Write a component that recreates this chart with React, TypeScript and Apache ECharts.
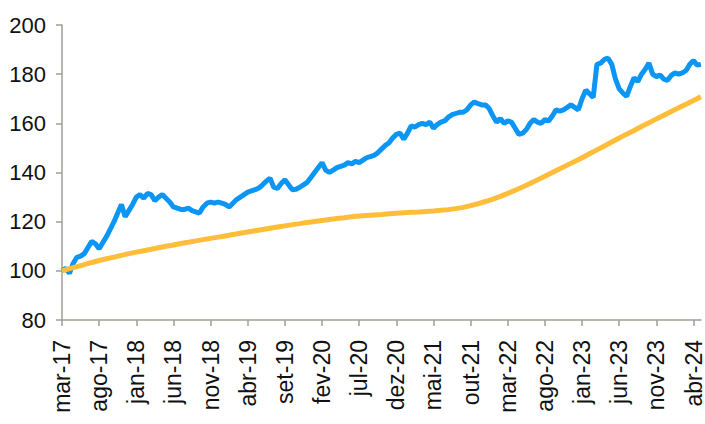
import React, { useEffect, useRef } from "react";
import * as echarts from "echarts";

// Tick labels, one every 5 months starting at mar-17 (month index 0)
const tickLabels = [
  "mar-17", "ago-17", "jan-18", "jun-18", "nov-18", "abr-19", "set-19", "fev-20", "jul-20",
  "dez-20", "mai-21", "out-21", "mar-22", "ago-22", "jan-23", "jun-23", "nov-23", "abr-24",
];

// Blue series: half-month samples from mar-17 (index j -> month j/2)
const blueValues = [
  100, 101, 99, 103, 105.5, 106, 107, 109.5, 112, 111,
  109, 111.5, 114, 117, 120, 123.5, 127, 122, 124.5, 127,
  130, 131, 129.5, 131.5, 131, 128.5, 130, 131, 129.5, 128,
  126, 125.5, 125, 125, 125.5, 124.5, 124, 123.5, 126, 127.5,
  128, 127.5, 128, 127.5, 127, 126, 127.5, 129, 130, 131,
  132, 132.5, 133, 133.7, 135, 136.5, 137.7, 134, 133.5, 135.5,
  137, 135, 133, 133.2, 134, 135, 136, 138, 140, 142,
  144, 141, 140, 141, 142, 142.5, 143, 144, 143.5, 144.5,
  144, 145, 146, 146.5, 147, 148, 149.5, 151, 152, 154,
  155.5, 156, 153.5, 156, 159, 158.5, 159.5, 160, 159.5, 160.5,
  158, 159.5, 160.5, 161, 162.5, 163.5, 164, 164.5, 164.5, 165.5,
  167.5, 168.7, 168, 167.5, 167.5, 166, 163, 160.5, 162, 160,
  161, 160.5, 158, 155.5, 156, 157.5, 160, 161.5, 160.5, 160,
  161.5, 161, 163, 165.5, 165, 165.5, 166.5, 167.5, 166.5, 165.5,
  170, 173.5, 172, 170.5, 184, 184.5, 186, 186.5, 184, 178,
  174, 172.3, 171, 175, 178.5, 177, 180, 182, 184.5, 180,
  179, 179.7, 178, 177.5, 179.5, 180.5, 180, 180.5, 181.5, 184,
  185.5, 183.7, 184,
];

// Yellow series: monthly samples from mar-17
const yellowValues = [
  100.0, 100.9, 101.7, 102.5, 103.4, 104.2, 104.9, 105.6, 106.3, 107.0,
  107.6, 108.2, 108.8, 109.4, 110.0, 110.5, 111.1, 111.6, 112.2, 112.7,
  113.2, 113.7, 114.2, 114.8, 115.3, 115.8, 116.3, 116.8, 117.3, 117.8,
  118.3, 118.8, 119.2, 119.7, 120.1, 120.5, 120.9, 121.3, 121.6, 122.0,
  122.3, 122.5, 122.7, 122.9, 123.2, 123.4, 123.6, 123.8, 123.9, 124.1,
  124.3, 124.6, 124.9, 125.3, 125.8, 126.5, 127.3, 128.2, 129.2, 130.3,
  131.5, 132.8, 134.1, 135.5, 137.0, 138.5, 140.0, 141.5, 143.0, 144.5,
  146.0, 147.6, 149.2, 150.8, 152.4, 154.0, 155.6, 157.1, 158.7, 160.2,
  161.8, 163.3, 164.8, 166.3, 167.8, 169.3, 170.8,
];

export default function App() {
  const ref = useRef<HTMLDivElement>(null);

  useEffect(() => {
    if (!ref.current) return;
    const chart = echarts.init(ref.current, null, { renderer: "svg" });
    const axisColor = "#a39e94";
    const font = "'Liberation Sans', Arial, sans-serif";
    chart.setOption({
      animation: false,
      backgroundColor: "#ffffff",
      grid: { left: 62, right: 0, top: 25, bottom: 104, containLabel: false },
      xAxis: {
        type: "value",
        min: 0,
        max: 86,
        interval: 5,
        axisLine: { show: true, lineStyle: { color: axisColor, width: 1.5 } },
        axisTick: { show: true, length: 6, lineStyle: { color: axisColor, width: 1.5 } },
        splitLine: { show: false },
        axisLabel: {
          rotate: 90,
          margin: 20,
          fontSize: 23,
          fontFamily: font,
          color: "#111111",
          showMaxLabel: false,
          formatter: (v: number) => (v % 5 === 0 ? tickLabels[v / 5] ?? "" : ""),
        },
      },
      yAxis: {
        type: "value",
        min: 80,
        max: 200,
        interval: 20,
        axisLine: { show: true, lineStyle: { color: axisColor, width: 1.5 } },
        axisTick: { show: true, length: 6, lineStyle: { color: axisColor, width: 1.5 } },
        splitLine: { show: false },
        axisLabel: {
          margin: 16,
          fontSize: 22,
          fontFamily: font,
          color: "#111111",
        },
      },
      series: [
        {
          type: "line",
          data: blueValues.map((v, j) => [j / 2, v]),
          showSymbol: false,
          lineStyle: { color: "#0b95f5", width: 5 },
          z: 2,
        },
        {
          type: "line",
          data: yellowValues.map((v, i) => [i, v]),
          showSymbol: false,
          lineStyle: { color: "#ffbd3a", width: 5 },
          z: 3,
        },
      ],
    });
    return () => chart.dispose();
  }, []);

  return (
    <div
      ref={ref}
      style={{ position: "absolute", left: 0, top: 0, width: 705, height: 424 }}
    />
  );
}
